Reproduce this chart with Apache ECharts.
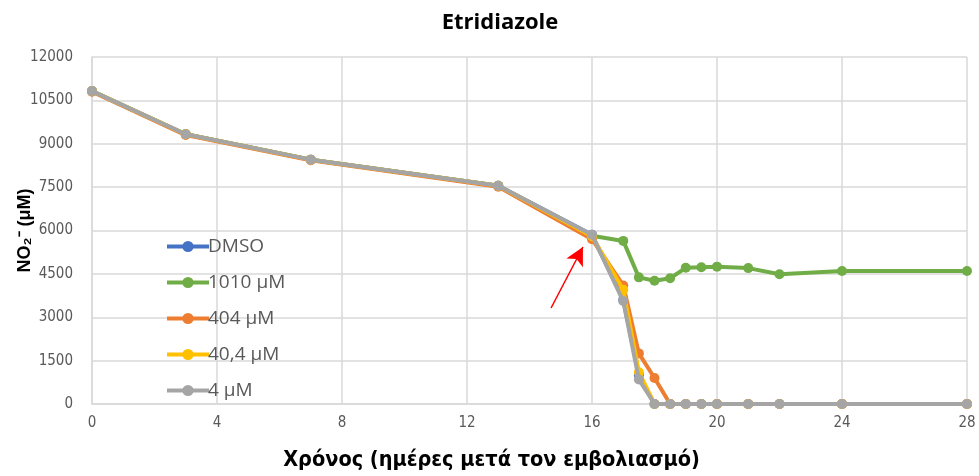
<!DOCTYPE html>
<html>
<head>
<meta charset="utf-8">
<script src="https://cdn.jsdelivr.net/npm/echarts@6/dist/echarts.min.js"></script>
<style>
  html, body { margin: 0; padding: 0; background: #fff; }
  #chart { width: 979px; height: 476px; }
</style>
</head>
<body>
<div id="chart"></div>
<script>
// Days after inoculation
const days = [0, 3, 7, 13, 16, 17, 17.5, 18, 18.5, 19, 19.5, 20, 21, 22, 24, 28];

// NO2- concentration (µM) per treatment
const dmso    = [10820, 9330, 8450, 7550, 5850, 3600, 1000, 0, 0, 0, 0, 0, 0, 0, 0, 0];
const c1010   = [10820, 9330, 8450, 7550, 5820, 5640, 4380, 4260, 4350, 4710, 4730, 4750, 4700, 4490, 4600, 4600];
const c404    = [10800, 9300, 8430, 7510, 5700, 4100, 1750, 900, 0, 0, 0, 0, 0, 0, 0, 0];
const c40_4   = [10820, 9330, 8450, 7550, 5800, 3950, 1100, 0, 0, 0, 0, 0, 0, 0, 0, 0];
const c4      = [10820, 9330, 8450, 7550, 5850, 3560, 850, 0, 0, 0, 0, 0, 0, 0, 0, 0];

const seriesNames = ['DMSO', '1010 μM', '404 μM', '40,4 μM', '4 μM'];
const seriesValues = [dmso, c1010, c404, c40_4, c4];
const seriesColors = ['#4472C4', '#70AD47', '#ED7D31', '#FFC000', '#A5A5A5'];

const xTicks = { min: 0, max: 28, step: 4 };
const yTicks = { min: 0, max: 12000, step: 1500 };

// Treatment-start arrow (day, µM): tail -> head
const arrowTail = [14.69, 3320];
const arrowHead = [15.71, 5430];

const pairs = vals => days.map((d, i) => [d, vals[i]]);

const series = seriesNames.map((name, i) => ({
  name,
  type: 'line',
  data: pairs(seriesValues[i]),
  symbol: 'circle',
  symbolSize: 10,
  showSymbol: true,
  lineStyle: { width: 4, color: seriesColors[i] },
  itemStyle: { color: seriesColors[i] },
  emphasis: { disabled: true },
  z: 2 + i
}));

// Arrow annotation
series.push({
  name: 'arrow',
  type: 'line',
  data: [],
  silent: true,
  markLine: {
    silent: true,
    symbol: ['none', 'arrow'],
    symbolSize: [14, 18],
    label: { show: false },
    lineStyle: { color: '#FF0000', width: 1.5, type: 'solid' },
    data: [[{ coord: arrowTail }, { coord: arrowHead }]]
  },
  z: 10
});

const tickFont = 'Liberation Sans Narrow, DejaVu Sans Condensed, sans-serif';

const chart = echarts.init(document.getElementById('chart'), null, { renderer: 'canvas' });
chart.setOption({
  animation: false,
  backgroundColor: '#ffffff',
  title: {
    text: 'Etridiazole',
    left: 495,
    textAlign: 'center',
    top: 7,
    textStyle: { fontFamily: 'Open Sans', fontWeight: 'bold', fontSize: 22, color: '#000' }
  },
  grid: { left: 92, right: 12, top: 57, bottom: 72, outerBoundsMode: 'none', containLabel: false },
  legend: {
    orient: 'vertical',
    left: 160,
    top: 232,
    itemWidth: 42,
    itemHeight: 14,
    itemGap: 17,
    data: seriesNames,
    lineStyle: { width: 4 },
    textStyle: { fontFamily: 'Open Sans', fontSize: 19, color: '#595959', padding: [0, 0, 0, -6] }
  },
  xAxis: {
    type: 'value',
    min: xTicks.min,
    max: xTicks.max,
    interval: xTicks.step,
    name: 'Χρόνος (ημέρες μετά τον εμβολιασμό)',
    nameLocation: 'middle',
    nameGap: 45,
    nameMoveOverlap: false,
    nameTextStyle: {
      fontFamily: 'DejaVu Sans Condensed, sans-serif', fontWeight: 'bold', fontSize: 21.5, color: '#000',
      padding: [0, 76, 0, 0]
    },
    axisLine: { show: true, lineStyle: { color: '#D9D9D9', width: 1.5 } },
    axisTick: { show: false },
    axisLabel: { fontFamily: tickFont, fontSize: 15, color: '#595959', margin: 12 },
    splitLine: { show: true, lineStyle: { color: '#D9D9D9', width: 1.5 } }
  },
  yAxis: {
    type: 'value',
    min: yTicks.min,
    max: yTicks.max,
    interval: yTicks.step,
    name: 'NO₂⁻ (μM)',
    nameLocation: 'middle',
    nameGap: 58,
    nameMoveOverlap: false,
    nameRotate: 90,
    nameTextStyle: { fontFamily: 'Liberation Sans', fontWeight: 'bold', fontSize: 18, color: '#000' },
    axisLine: { show: true, lineStyle: { color: '#D9D9D9', width: 1.5 } },
    axisTick: { show: false },
    axisLabel: { fontFamily: tickFont, fontSize: 15, color: '#595959', margin: 19, formatter: v => String(v) },
    splitLine: { show: true, lineStyle: { color: '#D9D9D9', width: 1.5 } }
  },
  series
});
</script>
</body>
</html>
